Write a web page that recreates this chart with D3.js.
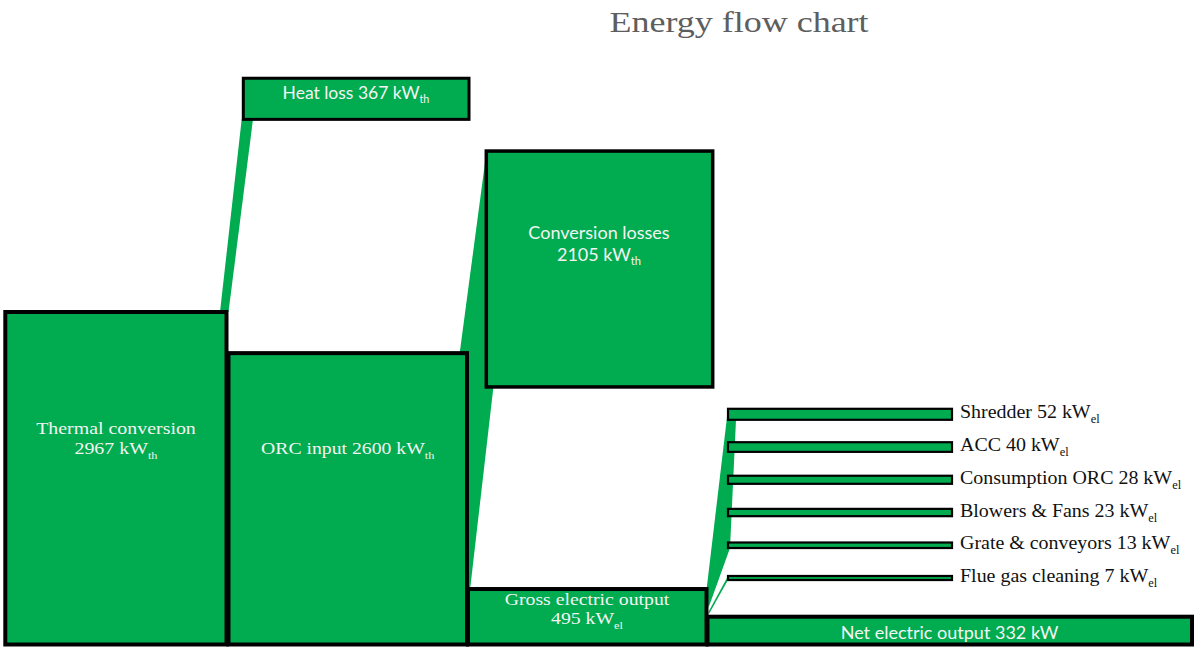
<!DOCTYPE html>
<html>
<head>
<meta charset="utf-8">
<script src="https://cdn.jsdelivr.net/npm/d3@7"></script>
<style>
  html, body { margin: 0; padding: 0; background: #ffffff; }
  svg { display: block; }
</style>
</head>
<body>
<svg id="chart" width="1194" height="648"></svg>
<script>
// ---------------- DATA ----------------
const titleText = "Energy flow chart";

const nodeIds    = ["thermal", "orc", "heat", "conv", "gross", "net"];
const nodeLines  = [["Thermal conversion", "2967 kW"], ["ORC input 2600 kW"], ["Heat loss 367 kW"],
                    ["Conversion losses", "2105 kW"], ["Gross electric output", "495 kW"], ["Net electric output 332 kW"]];
const nodeSubs   = [["", "th"], ["th"], ["th"], ["", "th"], ["", "el"], [""]];
const nodeValues = [2967, 2600, 367, 2105, 495, 332];

const auxNames   = ["Shredder", "ACC", "Consumption ORC", "Blowers & Fans", "Grate & conveyors", "Flue gas cleaning"];
const auxValues  = [52, 40, 28, 23, 13, 7];
const auxUnit    = "el";

// ---------------- STYLE / LAYOUT ----------------
const GREEN = "#00ac4f";
const SERIF = "'Liberation Serif', 'Times New Roman', serif";
const SANS  = "Lato, 'Open Sans', sans-serif";
const base = 644.5;

// horizontal extents and vertical anchoring of each node (layout only)
const layout = {
  thermal: { x0: 5.3,   x1: 226.5, anchor: "bottom", ref: base, scale: "th", sw: 4,
             font: SERIF, size: 17, sx: 1.17, fill: "#f4f4f4", cx: 116, ys: [434, 454] },
  orc:     { x0: 228.5, x1: 467,   anchor: "bottom", ref: base, scale: "th", sw: 4,
             font: SERIF, size: 17, sx: 1.16, fill: "#f4f4f4", cx: 347.7, ys: [454] },
  heat:    { x0: 243.3, x1: 469,   anchor: "middle", ref: 98.8, scale: "th", sw: 3,
             font: SANS, size: 17.5, sx: 1.0, fill: "#f4f4f4", cx: 356, ys: [98.5] },
  conv:    { x0: 486.3, x1: 712.7, anchor: "middle", ref: 269, scale: "th", sw: 3.5,
             font: SANS, size: 17.5, sx: 1.03, fill: "#f4f4f4", cx: 599, ys: [238.5, 260.5] },
  gross:   { x0: 468,   x1: 706.5, anchor: "bottom", ref: base, scale: "th", sw: 4,
             font: SERIF, size: 17.5, sx: 1.13, fill: "#f4f4f4", cx: 587, ys: [605, 624] },
  net:     { x0: 707.5, x1: 1192,  anchor: "bottom", ref: base, scale: "el", sw: 4,
             font: SANS, size: 17.5, sx: 1.03, fill: "#f4f4f4", cx: 949.5, ys: [638.5] }
};
const auxLayout = { x0: 728, x1: 952, yTop: 414.3, yBottom: 578, sw: 2.2,
                    labelX: 960, labelDy: 4, font: SERIF, size: 19, sx: 1.05, fill: "#111111" };

// ---------------- SCALES ----------------
const thermalH = d3.scaleLinear().domain([0, d3.max(nodeValues)]).range([0, 332.5]);
const elecH    = d3.scaleSqrt().domain([0, d3.max(auxValues)]).range([0, 11]);
const auxY     = d3.scalePoint().domain(auxNames).range([auxLayout.yTop, auxLayout.yBottom]);

// ---------------- GEOMETRY ----------------
const nodes = {};
nodeIds.forEach((id, i) => {
  const L = layout[id];
  const h = (L.scale === "th" ? thermalH : elecH)(nodeValues[i]);
  let top;
  if (L.anchor === "bottom") top = L.ref - h;
  else top = L.ref - h / 2;
  nodes[id] = { id, i, x0: L.x0, x1: L.x1, top, bottom: top + h, L };
});
const aux = auxNames.map((name, i) => {
  const h = elecH(auxValues[i]);
  const c = auxY(name);
  return { name, value: auxValues[i], x0: auxLayout.x0, x1: auxLayout.x1, top: c - h / 2, bottom: c + h / 2, c };
});

const svg = d3.select("#chart");

// ---------------- TITLE ----------------
svg.append("text")
  .attr("transform", "translate(739,31.5) scale(1.2,1)")
  .attr("text-anchor", "middle")
  .style("font-family", SERIF).style("font-size", "30px")
  .attr("fill", "#5e5e5e")
  .text(titleText);

// ---------------- LINKS ----------------
const T = nodes.thermal, O = nodes.orc, Hn = nodes.heat, C = nodes.conv, G = nodes.gross, N = nodes.net;
const linkPolys = [
  // thermal -> heat loss
  [[Hn.x0 - 1.6, Hn.bottom], [Hn.x0 + 9.7, Hn.bottom], [T.x1 + 2, T.top], [T.x1 - 6.5, T.top]],
  // orc -> conversion losses
  [[C.x0, C.top + 2], [O.x1 - 10, O.top + 20], [O.x1 - 10, G.top + 2], [G.x0 + 2, G.top + 1], [C.x0 + 10, C.bottom - 25]],
  // gross -> auxiliaries (main band)
  [[G.x1, G.top + 1], [aux[0].x0, aux[0].top], [aux[0].x0 + 8, aux[0].bottom],
   [aux[4].x0 + 2, aux[4].bottom], [G.x1 + 2, N.top - 9]],
  // gross -> flue gas cleaning
  [[G.x1 + 2, N.top - 5], [aux[5].x0, aux[5].top], [aux[5].x0, aux[5].bottom], [G.x1 + 2, N.top - 2]]
];
svg.append("g").selectAll("polygon").data(linkPolys).join("polygon")
  .attr("points", d => d.map(p => p.join(",")).join(" "))
  .attr("fill", GREEN);

// ---------------- NODES ----------------
const order = ["thermal", "orc", "gross", "net", "conv", "heat"];
svg.append("g").selectAll("rect").data(order.map(k => nodes[k])).join("rect")
  .attr("x", d => d.x0).attr("y", d => d.top)
  .attr("width", d => d.x1 - d.x0).attr("height", d => d.bottom - d.top)
  .attr("fill", GREEN).attr("stroke", "#000").attr("stroke-width", d => d.L.sw);

// ---------------- AUX BARS ----------------
svg.append("g").selectAll("rect").data(aux).join("rect")
  .attr("x", d => d.x0).attr("y", d => d.top)
  .attr("width", d => d.x1 - d.x0).attr("height", d => d.bottom - d.top)
  .attr("fill", GREEN).attr("stroke", "#000").attr("stroke-width", auxLayout.sw);

// ---------------- LABELS ----------------
function addLabel(g, x, y, anchor, family, size, sx, fill, main, sub) {
  const t = g.append("text")
    .attr("transform", `translate(${x},${y}) scale(${sx},1)`)
    .attr("text-anchor", anchor)
    .style("font-family", family).style("font-size", size + "px")
    .attr("fill", fill);
  t.append("tspan").text(main);
  if (sub) t.append("tspan").attr("dy", size * 0.27).style("font-size", (size * 0.62) + "px").text(sub);
}
const lg = svg.append("g");
nodeIds.forEach((id, i) => {
  const L = layout[id];
  nodeLines[i].forEach((line, j) => {
    addLabel(lg, L.cx, L.ys[j], "middle", L.font, L.size, L.sx, L.fill, line, nodeSubs[i][j]);
  });
});
aux.forEach(d => {
  addLabel(lg, auxLayout.labelX, d.c + auxLayout.labelDy, "start", auxLayout.font, auxLayout.size,
           auxLayout.sx, auxLayout.fill, `${d.name} ${d.value} kW`, auxUnit);
});
</script>
</body>
</html>
